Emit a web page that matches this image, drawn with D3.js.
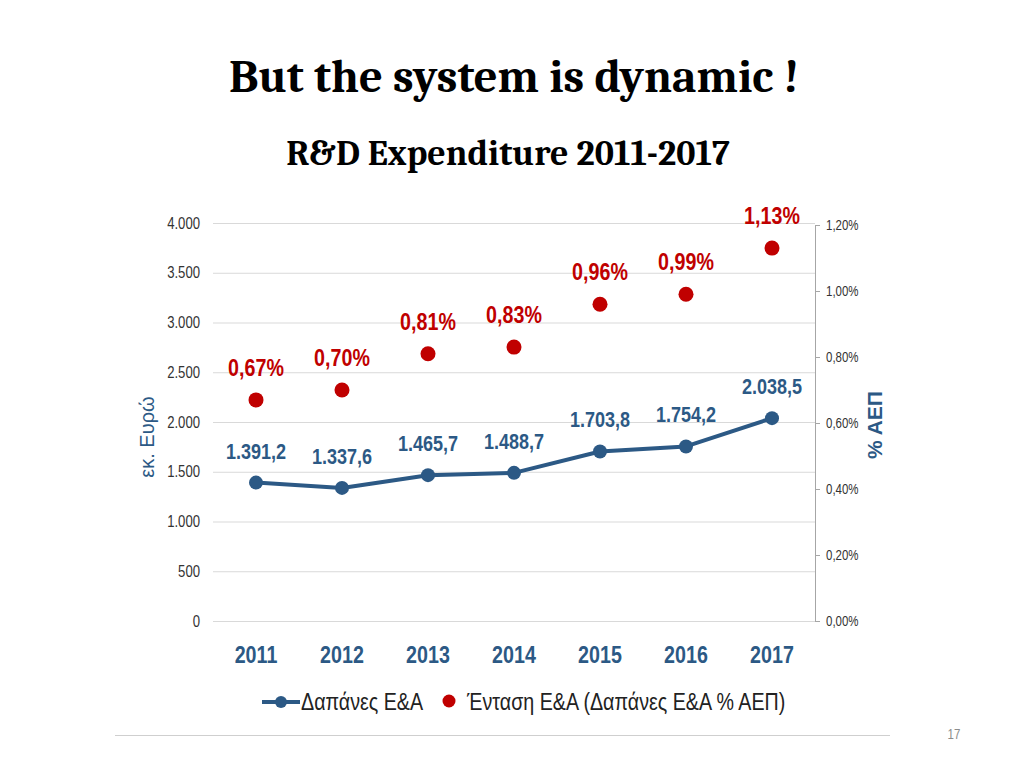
<!DOCTYPE html>
<html><head><meta charset="utf-8">
<script src="https://cdn.jsdelivr.net/npm/d3@7"></script>
<style>body{margin:0;background:#fff}svg{display:block}</style>
</head><body><svg id="c" width="1024" height="768"></svg>
<script>
const years = ["2011","2012","2013","2014","2015","2016","2017"];
const spending = [1391.2, 1337.6, 1465.7, 1488.7, 1703.8, 1754.2, 2038.5];
const intensity = [0.67, 0.70, 0.81, 0.83, 0.96, 0.99, 1.13];
const leftTicks = [0, 500, 1000, 1500, 2000, 2500, 3000, 3500, 4000];
const rightTicks = [0, 0.2, 0.4, 0.6, 0.8, 1.0, 1.2];

const svg = d3.select("#c");
const sans = "'Liberation Sans',Arial,sans-serif";
const serif = "Cambria,'Liberation Serif','DejaVu Serif',serif";
const blue = "#2C5985", red = "#C00000";
const NARROW = 0.82;

const loc = d3.formatLocale({decimal: ",", thousands: ".", grouping: [3], currency: ["", "€"]});
const fInt = loc.format(",d"), fVal = loc.format(",.1f"), fPct = loc.format(".2f");

// condensed text helper (simulates Arial Narrow)
function narrowText(sel) {
  return sel.attr("font-family", sans);
}
function place(xf, yf) {
  return function(d, i) { return `translate(${xf(d, i)},${yf(d, i)}) scale(${NARROW},1)`; };
}

svg.append("text").attr("x", 514).attr("y", 92).attr("text-anchor", "middle")
  .attr("font-family", serif).attr("font-weight", "bold").attr("font-size", 46.5)
  .text("But the system is dynamic !");
svg.append("text").attr("x", 508).attr("y", 165).attr("text-anchor", "middle")
  .attr("font-family", serif).attr("font-weight", "bold").attr("font-size", 36)
  .text("R&D Expenditure 2011-2017");

const x0 = 213, x1 = 815, yTop = 223, yBot = 621;
const x = d3.scaleBand().domain(years).range([x0, x1]);
const yL = d3.scaleLinear().domain([0, 4000]).range([yBot, yTop]);
const yR = d3.scaleLinear().domain([0, 1.2]).range([yBot, yTop + 2]);

// gridlines
svg.append("g").selectAll("line").data(leftTicks).join("line")
  .attr("x1", x0).attr("x2", x1).attr("y1", d => yL(d) + 0.5).attr("y2", d => yL(d) + 0.5)
  .attr("stroke", "#d9d9d9").attr("stroke-width", 1);

// left axis labels
svg.append("g").selectAll("text").data(leftTicks).join("text")
  .attr("transform", place(() => 200, d => yL(d)))
  .attr("dy", "0.35em").attr("text-anchor", "end")
  .call(narrowText).attr("font-size", 16).attr("fill", "#333")
  .text(d => fInt(d));

// right axis
const ra = svg.append("g").attr("transform", `translate(${x1},0)`)
  .call(d3.axisRight(yR).tickValues(rightTicks).tickSize(5).tickPadding(0).tickFormat(d => fPct(d) + "%"));
ra.select(".domain").attr("stroke", "#a6a6a6");
ra.selectAll(".tick line").attr("stroke", "#a6a6a6");
ra.selectAll(".tick text").attr("x", null).attr("transform", `translate(11,0) scale(${NARROW},1)`)
  .attr("font-family", sans).attr("font-size", 14).attr("fill", "#333");

// axis titles
svg.append("text").attr("transform", "translate(154,437) rotate(-90)").attr("text-anchor", "middle")
  .attr("font-family", sans).attr("font-size", 20).attr("fill", blue)
  .text("εκ. Ευρώ");
svg.append("text").attr("transform", "translate(882,425) rotate(-90)").attr("text-anchor", "middle")
  .attr("font-family", sans).attr("font-weight", "bold").attr("font-size", 21).attr("fill", blue)
  .text("% ΑΕΠ");

const cx = d => x(d) + x.bandwidth() / 2;

// line
svg.append("path").datum(years)
  .attr("d", d3.line().x(d => cx(d)).y((d, i) => yL(spending[i])))
  .attr("fill", "none").attr("stroke", blue).attr("stroke-width", 4).attr("stroke-linejoin", "round");
svg.append("g").selectAll("circle").data(years).join("circle")
  .attr("cx", d => cx(d)).attr("cy", (d, i) => yL(spending[i])).attr("r", 7).attr("fill", blue);
svg.append("g").selectAll("text").data(years).join("text")
  .attr("transform", place(d => cx(d), (d, i) => yL(spending[i]) - 24))
  .attr("text-anchor", "middle")
  .call(narrowText).attr("font-weight", "bold").attr("font-size", 22).attr("fill", blue)
  .text((d, i) => fVal(spending[i]));

// intensity dots
svg.append("g").selectAll("circle").data(years).join("circle")
  .attr("cx", d => cx(d)).attr("cy", (d, i) => yR(intensity[i])).attr("r", 7.5).attr("fill", red);
svg.append("g").selectAll("text").data(years).join("text")
  .attr("transform", place(d => cx(d), (d, i) => yR(intensity[i]) - 24))
  .attr("text-anchor", "middle")
  .call(narrowText).attr("font-weight", "bold").attr("font-size", 24).attr("fill", red)
  .text((d, i) => fPct(intensity[i]) + "%");

// year labels
svg.append("g").selectAll("text").data(years).join("text")
  .attr("transform", place(d => cx(d), () => 663))
  .attr("text-anchor", "middle")
  .call(narrowText).attr("font-weight", "bold").attr("font-size", 24).attr("fill", blue)
  .text(d => d);

// legend
const lg = svg.append("g");
lg.append("line").attr("x1", 262).attr("x2", 300).attr("y1", 702).attr("y2", 702).attr("stroke", blue).attr("stroke-width", 4);
lg.append("circle").attr("cx", 281).attr("cy", 702).attr("r", 6).attr("fill", blue);
lg.append("text").attr("transform", `translate(301,710) scale(${NARROW},1)`)
  .call(narrowText).attr("font-size", 24).attr("fill", "#222")
  .text("Δαπάνες Ε&Α");
lg.append("circle").attr("cx", 449).attr("cy", 701).attr("r", 6.5).attr("fill", red);
lg.append("text").attr("transform", `translate(467,710) scale(${NARROW},1)`)
  .call(narrowText).attr("font-size", 24).attr("fill", "#222")
  .text("Ένταση Ε&Α (Δαπάνες Ε&Α % ΑΕΠ)");

// footer
svg.append("line").attr("x1", 115).attr("x2", 890).attr("y1", 735.5).attr("y2", 735.5).attr("stroke", "#cfcfcf");
svg.append("text").attr("transform", `translate(954,739) scale(${NARROW},1)`).attr("text-anchor", "middle")
  .attr("font-family", sans).attr("font-size", 14).attr("fill", "#8c8c8c").text("17");
</script></body></html>
